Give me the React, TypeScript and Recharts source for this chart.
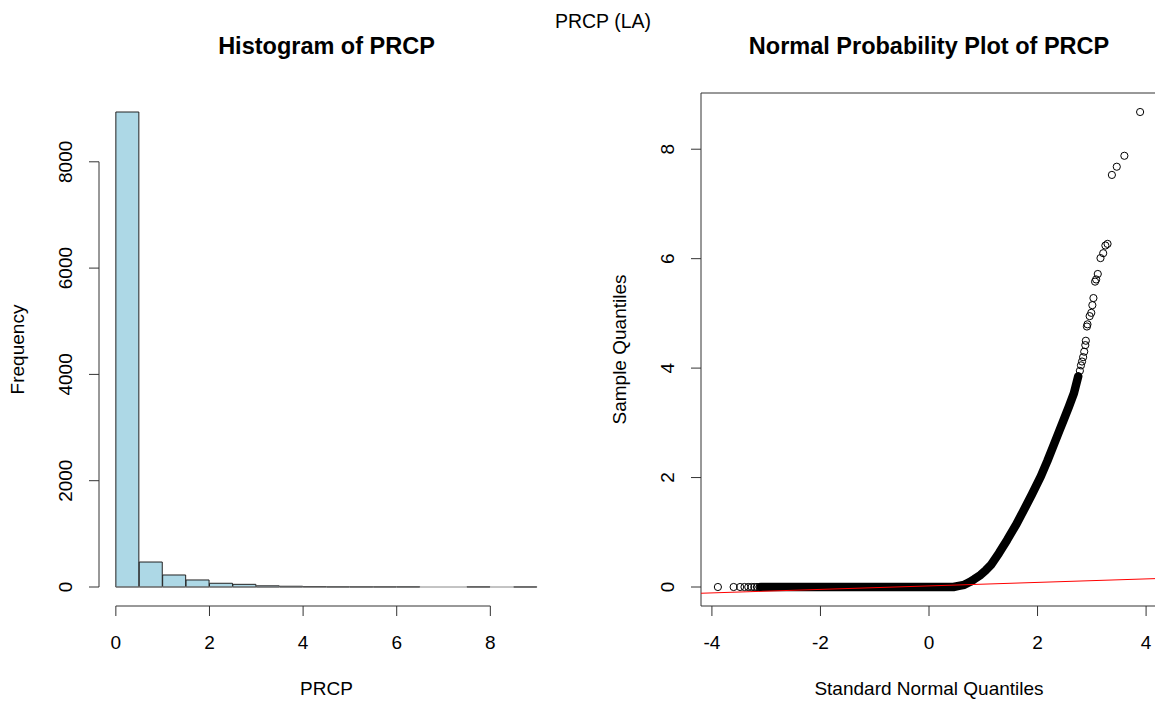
import React from "react";
import {
  BarChart,
  Bar,
  ComposedChart,
  Scatter,
  Line,
  XAxis,
  YAxis,
  ReferenceLine,
  ReferenceArea,
} from "recharts";

const FONT = '"Liberation Sans", Arial, Helvetica, sans-serif';

// histogram of PRCP, bins 0.5 wide
const binStarts = [0, 0.5, 1, 1.5, 2, 2.5, 3, 3.5, 4, 4.5, 5, 5.5, 6, 6.5, 7, 7.5, 8, 8.5];
const binCounts = [8937, 470, 226, 132, 70, 50, 22, 14, 9, 4, 3, 3, 4, 0, 0, 3, 0, 1];
const binWidth = 0.5;
const histXTicks = [0, 2, 4, 6, 8];
const histYTicks = [0, 2000, 4000, 6000, 8000];

// normal QQ plot: dense part of the cloud (drawn as a solid band)
const bandQuantiles = [-3.1, 0.45, 0.55, 0.65, 0.75, 0.83, 0.95, 1.05, 1.14, 1.29, 1.44, 1.6, 1.75, 1.9, 2.06, 2.18, 2.3, 2.4, 2.48, 2.58, 2.67, 2.75];
const bandValues = [0, 0, 0.02, 0.04, 0.09, 0.14, 0.22, 0.31, 0.4, 0.62, 0.86, 1.13, 1.41, 1.7, 2.02, 2.3, 2.6, 2.85, 3.05, 3.3, 3.54, 3.85];

// single points in both tails
const tailQuantiles = [-3.89, -3.6, -3.48, -3.4, -3.33, -3.27, -3.22, -3.17, -3.12, 2.78, 2.8, 2.82, 2.84, 2.86, 2.88, 2.89, 2.91, 2.92, 2.96, 2.99, 3.01, 3.03, 3.06, 3.08, 3.11, 3.16, 3.21, 3.25, 3.29, 3.37, 3.46, 3.6, 3.89];
const tailValues = [0, 0, 0, 0, 0, 0, 0, 0, 0, 3.95, 4.05, 4.12, 4.2, 4.3, 4.42, 4.5, 4.76, 4.8, 4.95, 5.01, 5.15, 5.28, 5.58, 5.62, 5.72, 6.01, 6.1, 6.24, 6.27, 7.53, 7.68, 7.88, 8.68];

const qqXTicks = [-4, -2, 0, 2, 4];
const qqYTicks = [0, 2, 4, 6, 8];
const qqlineIntercept = 0.02;
const qqlineSlope = 0.032;

// derived
const histData = binStarts.map((s, i) => ({ mid: s + binWidth / 2, count: binCounts[i] }));
const histMax = Math.max(...binCounts);
const histLo = binStarts[0];
const histHi = binStarts[binStarts.length - 1] + binWidth;
const histPad = (histHi - histLo) * 0.04;
const histXDomain = [histLo - histPad, histHi + histPad];
const histYDomain = [-histMax * 0.04, histMax * 1.04];

const bandData = bandQuantiles.map((x, i) => ({ x, y: bandValues[i] }));
const tailData = tailQuantiles.map((x, i) => ({ x, y: tailValues[i] }));
const qMin = Math.min(...tailQuantiles);
const qMax = Math.max(...tailQuantiles);
const vMax = Math.max(...tailValues);
const vMin = 0;
const qqXDomain = [qMin - (qMax - qMin) * 0.04, qMax + (qMax - qMin) * 0.04];
const qqYDomain = [vMin - (vMax - vMin) * 0.04, vMax + (vMax - vMin) * 0.04];

const AXIS = "#333";
const tickFont = { fontSize: 19, fill: "#000", fontFamily: FONT };

function RotTick(props: any) {
  const { x, y, payload } = props;
  return (
    <text
      transform={`translate(${x - 13},${y}) rotate(-90)`}
      textAnchor="middle"
      fontSize={19}
      fontFamily={FONT}
      fill="#000"
    >
      {payload.value}
    </text>
  );
}

function OpenCircle(props: any) {
  const { cx, cy } = props;
  return <circle cx={cx} cy={cy} r={3.6} fill="none" stroke="#000" strokeWidth={1} />;
}

export default function App() {
  return (
    <div style={{ position: "absolute", left: 0, top: 0, width: 1155, height: 701, background: "#fff", overflow: "hidden" }}>
      <div style={{ position: "absolute", left: 0, top: 0 }}>
        <BarChart
          width={578}
          height={701}
          data={histData}
          margin={{ top: 93, right: 24, bottom: 0, left: 0 }}
          barCategoryGap={0}
          barGap={0}
        >
          <XAxis
            dataKey="mid"
            type="number"
            domain={histXDomain}
            ticks={histXTicks}
            height={95}
            axisLine={false}
            tickLine={{ stroke: AXIS }}
            tickSize={10}
            tickMargin={20}
            tick={tickFont}
            interval={0}
          />
          <YAxis
            type="number"
            domain={histYDomain}
            ticks={histYTicks}
            width={99}
            axisLine={false}
            tickLine={{ stroke: AXIS }}
            tickSize={10}
            tickMargin={4}
            tick={<RotTick />}
            interval={0}
          />
          <Bar dataKey="count" fill="#add8e6" stroke="#222" strokeWidth={1} isAnimationActive={false} />
          <ReferenceLine
            segment={[{ x: histLo, y: 0 }, { x: histHi, y: 0 }]}
            stroke="#888"
            ifOverflow="visible"
          />
          <ReferenceLine
            segment={[{ x: histXTicks[0], y: histYDomain[0] }, { x: histXTicks[histXTicks.length - 1], y: histYDomain[0] }]}
            stroke={AXIS}
            ifOverflow="visible"
          />
          <ReferenceLine
            segment={[{ x: histXDomain[0], y: histYTicks[0] }, { x: histXDomain[0], y: histYTicks[histYTicks.length - 1] }]}
            stroke={AXIS}
            ifOverflow="visible"
          />
        </BarChart>
      </div>

      <div style={{ position: "absolute", left: 578, top: 0 }}>
        <ComposedChart
          width={600}
          height={701}
          margin={{ top: 93, right: 21, bottom: 0, left: 0 }}
        >
          <XAxis
            dataKey="x"
            type="number"
            domain={qqXDomain}
            ticks={qqXTicks}
            height={95}
            axisLine={false}
            tickLine={{ stroke: AXIS }}
            tickSize={10}
            tickMargin={20}
            tick={tickFont}
            interval={0}
            allowDataOverflow
          />
          <YAxis
            dataKey="y"
            type="number"
            domain={qqYDomain}
            ticks={qqYTicks}
            width={123}
            axisLine={false}
            tickLine={{ stroke: AXIS }}
            tickSize={10}
            tickMargin={4}
            tick={<RotTick />}
            interval={0}
            allowDataOverflow
          />
          <ReferenceArea
            x1={qqXDomain[0]}
            x2={qqXDomain[1]}
            y1={qqYDomain[0]}
            y2={qqYDomain[1]}
            fill="none"
            stroke={AXIS}
            ifOverflow="visible"
          />
          <Line
            data={bandData}
            dataKey="y"
            type="linear"
            stroke="#000"
            strokeWidth={8.5}
            strokeLinecap="round"
            strokeLinejoin="round"
            dot={false}
            isAnimationActive={false}
          />
          <Scatter data={tailData} shape={<OpenCircle />} isAnimationActive={false} />
          <ReferenceLine
            segment={[
              { x: qqXDomain[0], y: qqlineIntercept + qqlineSlope * qqXDomain[0] },
              { x: qqXDomain[1], y: qqlineIntercept + qqlineSlope * qqXDomain[1] },
            ]}
            stroke="#ff0000"
            strokeWidth={1}
            ifOverflow="visible"
          />
        </ComposedChart>
      </div>

      <svg width={1155} height={701} style={{ position: "absolute", left: 0, top: 0, pointerEvents: "none" }} fontFamily={FONT}>
        <text x={603} y={28} textAnchor="middle" fontSize={19.5} fill="#000">PRCP (LA)</text>
        <text x={326.5} y={54} textAnchor="middle" fontSize={23.5} fontWeight="bold" fill="#000">Histogram of PRCP</text>
        <text x={929} y={54} textAnchor="middle" fontSize={23.5} fontWeight="bold" fill="#000">Normal Probability Plot of PRCP</text>
        <text x={326.5} y={695} textAnchor="middle" fontSize={19} fill="#000">PRCP</text>
        <text x={929} y={695} textAnchor="middle" fontSize={19} fill="#000">Standard Normal Quantiles</text>
        <text transform="translate(24,349.5) rotate(-90)" textAnchor="middle" fontSize={19} fill="#000">Frequency</text>
        <text transform="translate(626,349.5) rotate(-90)" textAnchor="middle" fontSize={19} fill="#000">Sample Quantiles</text>
      </svg>
    </div>
  );
}
